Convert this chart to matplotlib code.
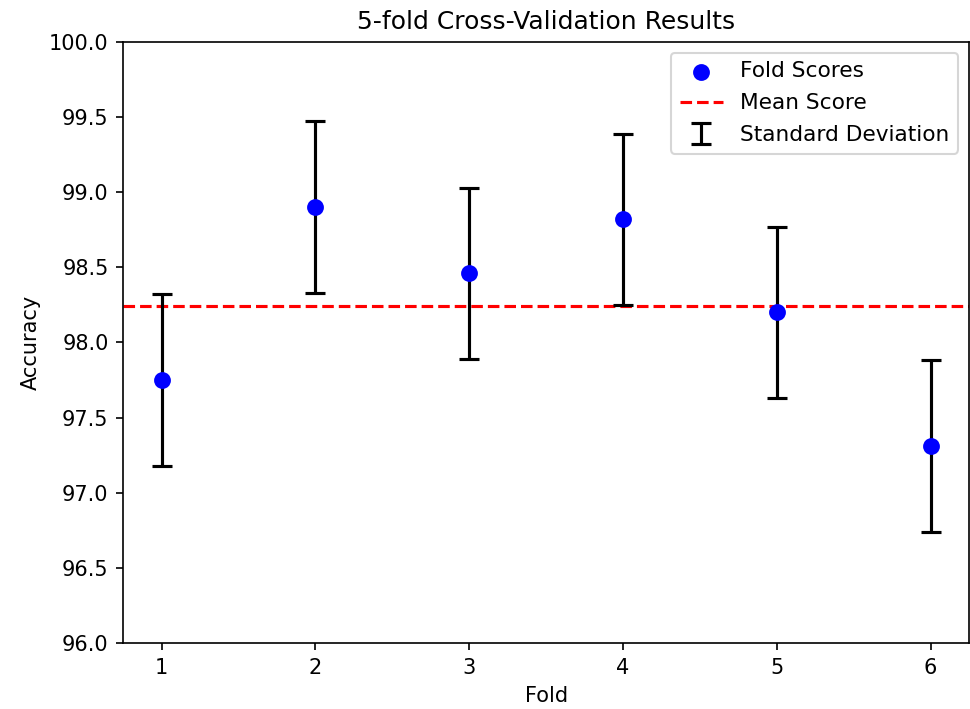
import matplotlib
matplotlib.use("Agg")
import matplotlib.pyplot as plt
import numpy as np

# values
folds = [1, 2, 3, 4, 5, 6]
scores = [97.75, 98.90, 98.46, 98.82, 98.20, 97.31]
std_dev = [0.57, 0.57, 0.57, 0.57, 0.57, 0.57]
mean_score = 98.24

fig = plt.figure(figsize=(970 / 150, 709 / 150), dpi=150)
ax = fig.add_axes([0.127, 0.093, 0.872, 0.848])

ax.scatter(folds, scores, color="blue", s=50, zorder=3, label="Fold Scores")
ax.axhline(mean_score, color="red", linestyle="--", lw=1.5, label="Mean Score")
ax.errorbar(folds, scores, yerr=std_dev, fmt="none", ecolor="black",
            elinewidth=1.5, capsize=5, capthick=1.5, label="Standard Deviation")

ax.set_ylim(96, 100)
ax.set_xticks(folds)
ax.set_xlabel("Fold")
ax.set_ylabel("Accuracy")
ax.set_title("5-fold Cross-Validation Results")
ax.legend(loc="upper right", fontsize=10.4, labelspacing=0.55)

fig.savefig("out.png", dpi=150)
